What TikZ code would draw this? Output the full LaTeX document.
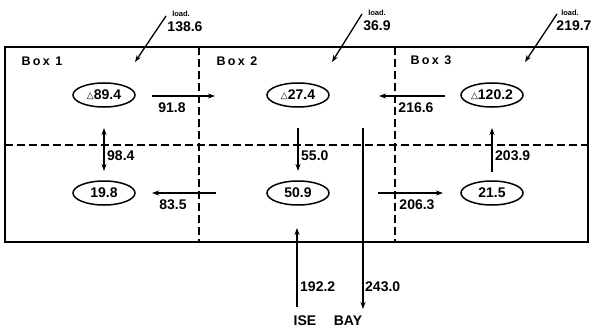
\documentclass[tikz,border=0pt]{standalone}
\usepackage{fontspec}
\setmainfont{Liberation Sans}
\newfontfamily\dejavu{DejaVu Sans}
\newfontfamily\boxfont[LetterSpace=18]{Liberation Sans}
\usetikzlibrary{shapes.geometric,arrows.meta}
\tikzset{
  ell/.style={draw,ellipse,line width=1.5pt,minimum width=62pt,minimum height=24pt,inner sep=0pt,font=\bfseries\fontsize{14}{15}\selectfont},
  num/.style={inner sep=0pt,font=\bfseries\fontsize{14}{15}\selectfont},
  small/.style={inner sep=0pt,font=\bfseries\fontsize{7.5}{8}\selectfont},
  boxlbl/.style={inner sep=0pt,font=\boxfont\bfseries\fontsize{12.5}{13}\selectfont},
  flow/.style={line width=1.3pt,-{Stealth[length=7pt,width=5pt]}},
  dline/.style={line width=1.6pt,dash pattern=on 8pt off 4pt},
}
\newcommand{\tri}{\raisebox{1pt}{\dejavu\bfseries\fontsize{9}{9}\selectfont △}}
\begin{document}
\begin{tikzpicture}[x=1pt,y=-1pt]
\useasboundingbox (0,0) rectangle (592,329);
% frame
\draw[line width=1.6pt] (5,47) rectangle (588,242);
\draw[dline] (5,145) -- (588,145);
\draw[dline] (199,47) -- (199,242);
\draw[dline] (395,47) -- (395,242);
% box labels
\node[boxlbl] (b1) at (42,61) {Box 1};
\node[boxlbl] (b2) at (237,61) {Box 2};
\node[boxlbl] (b3) at (431,60) {Box 3};
% ellipses
\node[ell] (e11) at (104,95) {\tri89.4};
\node[ell] (e12) at (298,95) {\tri27.4};
\node[ell] (e13) at (492,95) {\tri120.2};
\node[ell] (e21) at (104,193) {19.8};
\node[ell] (e22) at (298,193) {50.9};
\node[ell] (e23) at (492,193) {21.5};
% loads
\coordinate (l1s) at (166,16); \coordinate (l1e) at (135,62);
\coordinate (l2s) at (362,14); \coordinate (l2e) at (332,62);
\coordinate (l3s) at (557,14); \coordinate (l3e) at (525,62);
\draw[flow] (l1s) -- (l1e);
\draw[flow] (l2s) -- (l2e);
\draw[flow] (l3s) -- (l3e);
\node[small] (t1a) at (181,14) {load.};
\node[num] (t1b) at (185,27) {138.6};
\node[small] (t2a) at (377,13) {load.};
\node[num] (t2b) at (377,26) {36.9};
\node[small] (t3a) at (570,13) {load.};
\node[num] (t3b) at (574,26) {219.7};
% horizontal flows
\coordinate (h1s) at (152,96); \coordinate (h1e) at (215,96);
\draw[flow] (h1s) -- (h1e);
\node[num] (h1l) at (172,108) {91.8};
\coordinate (h2s) at (445,96); \coordinate (h2e) at (379,96);
\draw[flow] (h2s) -- (h2e);
\node[num] (h2l) at (416,108) {216.6};
\coordinate (h3s) at (216,193); \coordinate (h3e) at (152,193);
\draw[flow] (h3s) -- (h3e);
\node[num] (h3l) at (173,205) {83.5};
\coordinate (h4s) at (378,193); \coordinate (h4e) at (443,193);
\draw[flow] (h4s) -- (h4e);
\node[num] (h4l) at (417,205) {206.3};
% vertical flows
\coordinate (v1s) at (104,171); \coordinate (v1e) at (104,128);
\draw[flow,{Stealth[length=7pt,width=5pt]}-{Stealth[length=7pt,width=5pt]}] (v1s) -- (v1e);
\node[num,anchor=west] (v1l) at (107,156) {98.4};
\coordinate (v2s) at (298,128); \coordinate (v2e) at (298,171);
\draw[flow] (v2s) -- (v2e);
\node[num,anchor=west] (v2l) at (301,156) {55.0};
\coordinate (v3s) at (492,172); \coordinate (v3e) at (492,128);
\draw[flow] (v3s) -- (v3e);
\node[num,anchor=west] (v3l) at (495,156) {203.9};
\coordinate (v4s) at (363,128); \coordinate (v4e) at (363,309);
\draw[flow] (v4s) -- (v4e);
\node[num,anchor=west] (v4l) at (365,287) {243.0};
\coordinate (v5s) at (297,307); \coordinate (v5e) at (297,228);
\draw[flow,line width=1.8pt] (v5s) -- (v5e);
\node[num,anchor=west] (v5l) at (300,287) {192.2};
% bay labels
\node[num] (ise) at (305,321) {ISE};
\node[num] (bay) at (348,321) {BAY};
\end{tikzpicture}
\end{document}
